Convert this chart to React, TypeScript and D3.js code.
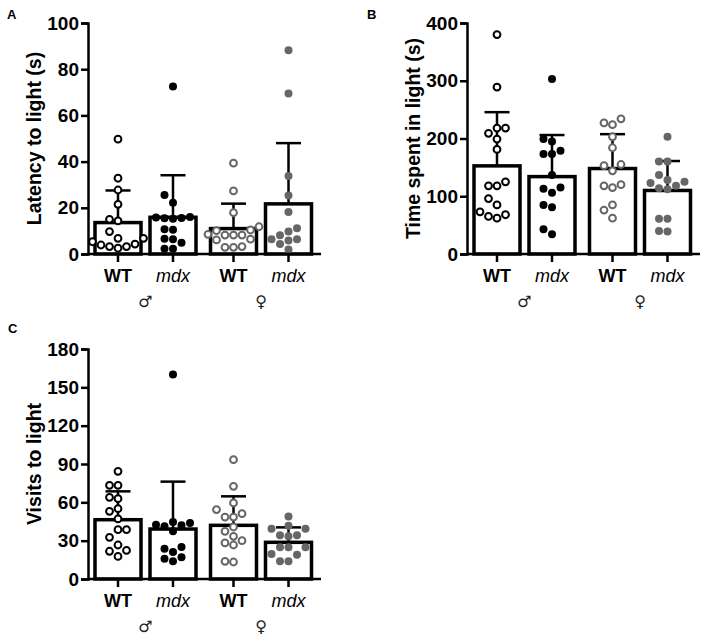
import React, {useRef, useEffect} from 'react'
import * as d3 from 'd3'

// categories
const groups = ['WT', 'mdx', 'WT', 'mdx']
const sexLabels = ['\u2642\uFE0E', '\u2640\uFE0E']

// A: latency to light (s)
const latencyMean = [13.6, 15.9, 11, 21.7]
const latencySD = [13.9, 18.2, 10.8, 26.3]
const latencyWTm = [49.7, 32.8, 27.7, 21.5, 15, 14.3, 9.7, 6.8, 6.8, 5.3, 4.3, 3.9, 3.2, 3.2, 2.5]
const latencyMdxM = [72.5, 25.5, 22.2, 16, 15.8, 15.5, 15.3, 15.6, 10.7, 10.5, 6.6, 6.4, 4.9, 2.3, 2.3]
const latencyWTf = [39.3, 27.3, 17.9, 11.8, 10.4, 10.1, 8.5, 8.2, 8.2, 8.2, 6.4, 6.1, 3.2, 2.9, 2.9]
const latencyMdxF = [88.2, 69.5, 33.8, 25.3, 18.2, 11.1, 9.7, 8.1, 6.4, 6.4, 5.8, 4.3, 2.0]

// B: time spent in light (s)
const timeMean = [152.6, 134, 148, 110]
const timeSD = [93, 72, 59.5, 51]
const timeWTm = [380, 289, 218, 218, 209, 199, 181, 125, 118, 118, 96, 85, 73, 68, 65, 62]
const timeMdxM = [303, 199, 195, 179, 173, 173, 137, 115, 113, 106, 85, 81, 43, 34]
const timeWTf = [234, 227, 224, 203, 184, 155, 153, 144, 120, 118, 115, 85, 76, 62]
const timeMdxF = [203, 160, 160, 137, 128, 125, 123, 118, 114, 112, 61, 61, 40, 39]

// C: visits to light
const visitsMean = [46.4, 39.1, 42, 28.7]
const visitsSD = [22.2, 37.1, 22.7, 11.7]
const visitsWTm = [84.3, 73.3, 73.3, 63.9, 62.9, 55, 53, 47, 38.6, 38.6, 32.6, 26.6, 22.4, 21.7, 17.7]
const visitsMdxM = [160, 44.6, 43.8, 42.5, 42, 41.2, 37.3, 25, 23.7, 21.1, 17, 15.9, 13.8]
const visitsWTf = [93.4, 72.5, 59.5, 54.3, 51.1, 48.5, 48.5, 40.7, 37.3, 33.4, 30, 28.2, 26.6, 13.8, 13.3]
const visitsMdxF = [49, 41.7, 39.4, 39.4, 34.2, 34.2, 33.4, 24.8, 24.8, 24.8, 19.6, 19, 13.8, 13.8]

const FONT = '"Liberation Sans", Arial, Helvetica, sans-serif'

// simple beeswarm: horizontal offsets so dots don't overlap
function swarm(vals: number[], y: (v: number) => number, d: number) {
  const placed: {x: number; y: number}[] = []
  const out: number[] = new Array(vals.length).fill(0)
  const order = vals.map((_, i) => i).sort((a, b) => vals[a] - vals[b])
  order.forEach((i) => {
    const py = y(vals[i])
    for (let k = 0; k < 40; k++) {
      const off = (k % 2 === 0 ? 1 : -1) * Math.ceil(k / 2) * d
      if (placed.every((p) => Math.hypot(p.x - off, p.y - py) >= d)) {
        placed.push({x: off, y: py})
        out[i] = off
        break
      }
    }
  })
  return out
}

interface IProps {
  letter: string
  title: string
  yMax: number
  yStep: number
  means: number[]
  sds: number[]
  dots: number[][]
  left: number
  top: number
  bottom: number
  letterX: number
  letterY: number
}

function Panel({letter, title, yMax, yStep, means, sds, dots, left, top, bottom, letterX, letterY}: IProps) {
  const ref: any = useRef<SVGGElement>(null)
  const yScale = d3.scaleLinear().domain([0, yMax]).range([bottom, top])
  const xScale = d3.scaleLinear().domain([0, 1]).range([left + 30, left + 85])
  const pos = (i: number) => xScale(i + (i >= 2 ? 0.1 : 0))
  const right = left + 233

  useEffect(() => {
    const g = d3.select(ref.current)
    g.call(
      d3
        .axisLeft(yScale)
        .tickValues(d3.range(0, yMax + 1, yStep))
        .tickSizeOuter(0)
        .tickSize(7)
        .tickPadding(2) as any
    )
    g.select('.domain').attr('stroke-width', 2.5).attr('stroke', '#000')
    g.selectAll('.tick line').attr('stroke-width', 2.5).attr('stroke', '#000')
    g.selectAll('.tick text')
      .attr('fill', '#000')
      .style('font-size', '19px')
      .style('font-weight', 'bold')
      .style('font-family', FONT)
  }, [yMax, yStep, top, bottom])

  return (
    <g>
      <text x={letterX} y={letterY} fontFamily={FONT} fontWeight="bold" fontSize={13}>
        {letter}
      </text>
      <text
        transform={`translate(${left - 47},${(top + bottom) / 2}) rotate(-90)`}
        textAnchor="middle"
        fontFamily={FONT}
        fontWeight="bold"
        fontSize={19.5}>
        {title}
      </text>
      {means.map((m, i) => (
        <rect
          key={'b' + i}
          x={pos(i) - 23}
          y={yScale(m)}
          width={46}
          height={bottom - yScale(m)}
          fill="#fff"
          stroke="#000"
          strokeWidth={3.5}
        />
      ))}
      {means.map((m, i) => (
        <g key={'e' + i} stroke="#000" strokeWidth={2.5}>
          <line x1={pos(i)} x2={pos(i)} y1={yScale(m)} y2={yScale(m + sds[i])} />
          <line x1={pos(i) - 12.5} x2={pos(i) + 12.5} y1={yScale(m + sds[i])} y2={yScale(m + sds[i])} />
        </g>
      ))}
      {dots.map((vals, i) => {
        const offs = swarm(vals, yScale, 8.5)
        const col = i < 2 ? '#000' : '#666'
        const open = i % 2 === 0
        return vals.map((v, j) => (
          <circle
            key={`d${i}-${j}`}
            cx={pos(i) + offs[j]}
            cy={yScale(v)}
            r={open ? 3.4 : 4}
            fill={open ? '#fff' : col}
            stroke={open ? col : 'none'}
            strokeWidth={2}
          />
        ))
      })}
      <g ref={ref} transform={`translate(${left},0)`} />
      <line x1={left} x2={right} y1={bottom} y2={bottom} stroke="#000" strokeWidth={2.5} />
      {groups.map((c, i) => (
        <g key={'x' + i}>
          <line x1={pos(i)} x2={pos(i)} y1={bottom} y2={bottom + 8} stroke="#000" strokeWidth={2.5} />
          <text
            x={pos(i)}
            y={bottom + 28}
            textAnchor="middle"
            fontFamily={FONT}
            fontSize={18}
            fontWeight={i % 2 === 0 ? 'bold' : 'normal'}
            fontStyle={i % 2 === 0 ? 'normal' : 'italic'}>
            {c}
          </text>
        </g>
      ))}
      {sexLabels.map((s, k) => (
        <text
          key={'s' + k}
          x={(pos(2 * k) + pos(2 * k + 1)) / 2}
          y={bottom + 53}
          textAnchor="middle"
          fontFamily='"DejaVu Sans", sans-serif'
          fill="#222"
          fontSize={16}>
          {s}
        </text>
      ))}
    </g>
  )
}

export default function App() {
  return (
    <svg width={702} height={638} style={{position: 'absolute', left: 0, top: 0, background: '#fff'}}>
      <Panel
        letter="A"
        title="Latency to light (s)"
        yMax={100}
        yStep={20}
        means={latencyMean}
        sds={latencySD}
        dots={[latencyWTm, latencyMdxM, latencyWTf, latencyMdxF]}
        left={88}
        top={23}
        bottom={254}
        letterX={7}
        letterY={19}
      />
      <Panel
        letter="B"
        title="Time spent in light (s)"
        yMax={400}
        yStep={100}
        means={timeMean}
        sds={timeSD}
        dots={[timeWTm, timeMdxM, timeWTf, timeMdxF]}
        left={467}
        top={23}
        bottom={254}
        letterX={367}
        letterY={19}
      />
      <Panel
        letter="C"
        title="Visits to light"
        yMax={180}
        yStep={30}
        means={visitsMean}
        sds={visitsSD}
        dots={[visitsWTm, visitsMdxM, visitsWTf, visitsMdxF]}
        left={88}
        top={349}
        bottom={579}
        letterX={8}
        letterY={333}
      />
    </svg>
  )
}
